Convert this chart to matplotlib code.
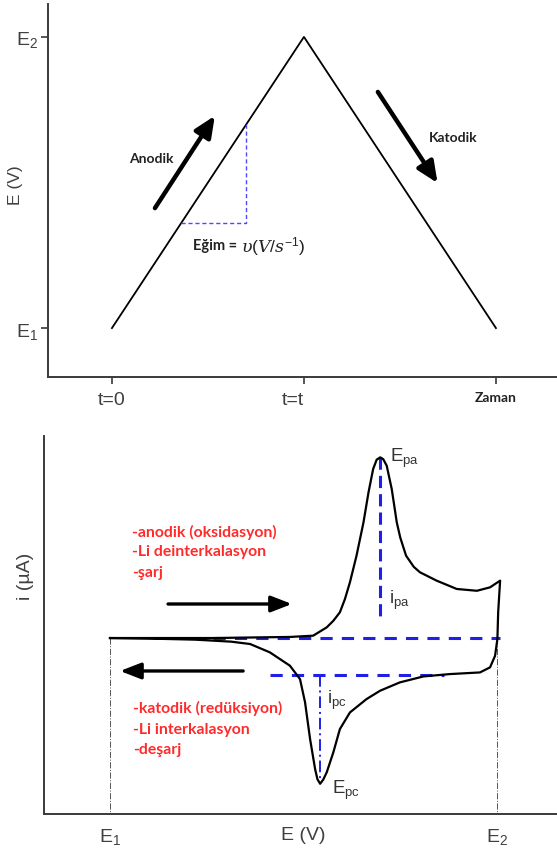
import matplotlib
matplotlib.use("Agg")
import matplotlib.pyplot as plt

plt.rcParams['font.family'] = ['Liberation Sans', 'DejaVu Sans']
plt.rcParams['mathtext.fontset'] = 'custom'
plt.rcParams['mathtext.rm'] = 'Liberation Sans'
plt.rcParams['mathtext.it'] = 'DejaVu Serif:italic'

# --- potential waveform (time vs. E) ---
wave_t = [0, 1, 2]
wave_E = [0, 1, 0]
wave_ticks = [0, 1, 2]
wave_ticklabels = ['t=0', 't=t', 'Zaman']
wave_yticks = [0, 1]
wave_yticklabels = ['E$_1$', 'E$_2$']

# slope triangle under the rising ramp
slope_t = [0.36, 0.70, 0.70]
slope_E = [0.36, 0.36, 0.70]

# --- cyclic voltammogram (E vs. i) ---
cv_E = [0.000, 0.266, 0.465, 0.525, 0.560, 0.577, 0.594, 0.607, 0.620, 0.637,
        0.655, 0.668, 0.680, 0.689, 0.698, 0.706, 0.715, 0.728, 0.741, 0.750,
        0.765, 0.785, 0.801, 0.844, 0.896, 0.948, 0.982, 1.008, 1.003, 1.001,
        0.995, 0.982, 0.956, 0.879, 0.810, 0.749, 0.698, 0.663, 0.620, 0.594,
        0.577, 0.560, 0.551, 0.543, 0.536, 0.530, 0.517, 0.504, 0.491, 0.465,
        0.413, 0.362, 0.313, 0.220, 0.101, 0.000]
cv_i = [0.000, 0.000, 0.006, 0.013, 0.059, 0.095, 0.142, 0.215, 0.308, 0.455,
        0.639, 0.805, 0.934, 0.985, 0.998, 0.988, 0.952, 0.823, 0.639, 0.555,
        0.455, 0.393, 0.363, 0.317, 0.271, 0.261, 0.280, 0.317, 0.142, -0.005,
        -0.098, -0.162, -0.190, -0.199, -0.212, -0.245, -0.291, -0.337, -0.411, -0.503,
        -0.632, -0.742, -0.782, -0.805, -0.780, -0.724, -0.558, -0.355, -0.227, -0.153,
        -0.079, -0.033, -0.020, -0.009, -0.003, 0.000]

E_pa, i_pa = 0.698, 0.998
E_pc, i_pc = 0.543, -0.805
anodic_base = 0.0
cathodic_base = -0.204
cv_ticks = [0, 0.5, 1]
cv_ticklabels = ['E$_1$', 'E (V)', 'E$_2$']

anodic_notes = ['-anodik (oksidasyon)', '-Li deinterkalasyon', '-şarj']
cathodic_notes = ['-katodik (redüksiyon)', '-Li interkalasyon', '-deşarj']

axis_gray = '#3a3a3a'
label_gray = '#404040'
note_red = '#ff2b2b'
dash_blue = '#1f1fe6'

fig = plt.figure(figsize=(5.57, 8.53), dpi=100)


def style_axes(ax):
    for side in ('top', 'right'):
        ax.spines[side].set_visible(False)
    for side in ('left', 'bottom'):
        ax.spines[side].set_linewidth(1.4)
        ax.spines[side].set_color(axis_gray)


# top panel: triangular potential sweep
ax1 = fig.add_axes([48 / 557, 475 / 853, 509 / 557, 373 / 853])
style_axes(ax1)
ax1.plot(wave_t, wave_E, color='black', lw=1.3)
ax1.plot(slope_t, slope_E, color='#4a4aff', lw=1.0, ls=(0, (3, 2)))
ax1.set_xlim(-0.333, 2.318)
ax1.set_ylim(-0.168, 1.113)
ax1.set_xticks(wave_ticks)
ax1.set_xticklabels(wave_ticklabels)
ax1.set_yticks(wave_yticks)
ax1.set_yticklabels(wave_yticklabels)
ax1.tick_params(axis='both', length=5, width=1.2, color=axis_gray,
                labelcolor=label_gray, labelsize=14)
ax1.tick_params(axis='x', pad=5)
ax1.tick_params(axis='y', pad=2)
tl = ax1.get_xticklabels()
tl[1].set_ha('right')
tl[2].set_fontfamily('Lato')
tl[2].set_fontweight('bold')
tl[2].set_fontsize(10)
tl[2].set_color('#222222')
ax1.set_ylabel('E (V)', fontsize=12.5, color=label_gray)
ax1.yaxis.set_label_coords(-0.050, 0.517)

arrow_kw = dict(arrowstyle='-|>,head_length=0.9,head_width=0.4', lw=3.2,
                color='black', shrinkA=0, shrinkB=0, mutation_scale=14)
ax1.annotate('', xy=(0.536, 0.729), xytext=(0.224, 0.412), arrowprops=arrow_kw)
ax1.annotate('', xy=(1.696, 0.498), xytext=(1.385, 0.811), arrowprops=arrow_kw)
ax1.text(0.203, 0.584, 'Anodik', family='Lato', weight='bold', fontsize=10,
         color='#222222', ha='center', va='center')
ax1.text(1.779, 0.657, 'Katodik', family='Lato', weight='bold', fontsize=10,
         color='#222222', ha='center', va='center')
ax1.text(0.651, 0.285, 'Eğim =', family='Lato', weight='bold', fontsize=10.5,
         color='#222222', ha='right', va='center')
ax1.text(0.672, 0.285, r'$\upsilon(V/s^{-1})$', fontsize=12.5,
         color='#222222', ha='left', va='center')

# bottom panel: cyclic voltammogram
ax2 = fig.add_axes([44 / 557, 38 / 853, 513 / 557, 378 / 853])
style_axes(ax2)
ax2.set_xlim(-0.1705, 1.155)
ax2.set_ylim(-0.972, 1.116)
ax2.set_xticks(cv_ticks)
ax2.set_xticklabels(cv_ticklabels)
ax2.set_yticks([])
ax2.tick_params(axis='x', length=0, pad=9, labelcolor=label_gray, labelsize=14)
ax2.set_ylabel('i (µA)', fontsize=14, color=label_gray)
ax2.yaxis.set_label_coords(-0.020, 0.63)

ymin = ax2.get_ylim()[0]
for e in (cv_ticks[0], cv_ticks[-1]):
    ax2.plot([e, e], [anodic_base, ymin], color='#555555', lw=0.7, ls='-.')

ax2.plot([0.266, 1.008], [anodic_base, anodic_base], color=dash_blue, lw=2.2,
         ls=(0, (4, 3)))
ax2.plot([0.413, 0.863], [cathodic_base, cathodic_base], color=dash_blue, lw=2.2,
         ls=(0, (4, 3)))
ax2.plot([E_pa, E_pa], [i_pa, 0.116], color=dash_blue, lw=2.2, ls=(0, (4, 2)))
ax2.plot([E_pc, E_pc], [cathodic_base, i_pc], color=dash_blue, lw=1.4,
         ls=(0, (6, 2, 1, 2)))

ax2.plot(cv_E, cv_i, color='black', lw=1.6, solid_joinstyle='round')

ax2.text(E_pa + 0.026, i_pa, 'E$_{\\mathrm{pa}}$', fontsize=13.5, color='#333333',
         ha='left', va='center')
ax2.text(E_pa + 0.022, 0.215, 'i$_{\\mathrm{pa}}$', fontsize=13.5, color='#333333',
         ha='left', va='center')
ax2.text(E_pc + 0.017, -0.337, 'i$_{\\mathrm{pc}}$', fontsize=13.5, color='#333333',
         ha='left', va='center')
ax2.text(E_pc + 0.030, -0.834, 'E$_{\\mathrm{pc}}$', fontsize=13.5, color='#333333',
         ha='left', va='center')

cv_arrow = dict(arrowstyle='-|>,head_length=0.9,head_width=0.35', lw=2.4,
                color='black', shrinkA=0, shrinkB=0, mutation_scale=14)
ax2.annotate('', xy=(0.470, 0.188), xytext=(0.150, 0.188), arrowprops=cv_arrow)
ax2.annotate('', xy=(0.026, -0.182), xytext=(0.344, -0.182), arrowprops=cv_arrow)

for txt, y in zip(anodic_notes, [0.591, 0.481, 0.365]):
    ax2.text(0.057, y, txt, family='Lato', weight='bold', fontsize=11.3,
             color=note_red, ha='left', va='center')
for txt, y in zip(cathodic_notes, [-0.381, -0.503, -0.613]):
    ax2.text(0.059, y, txt, family='Lato', weight='bold', fontsize=11.3,
             color=note_red, ha='left', va='center')

fig.savefig('out.png', dpi=100)
